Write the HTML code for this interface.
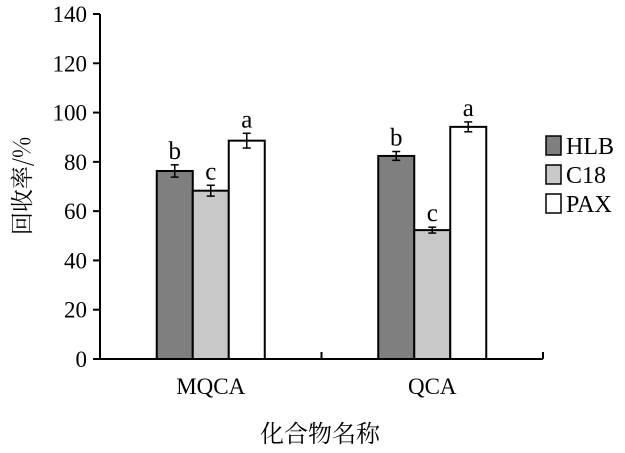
<!DOCTYPE html>
<html><head><meta charset="utf-8"><style>
body{margin:0;background:#fff;}
svg text{font-family:"Liberation Serif","Noto Serif CJK SC",serif;fill:#000;}
</style></head><body>
<svg width="625" height="448">
<g id="axes"></g><g id="bars"></g>
<text x="22" y="194" font-size="23" transform="rotate(-90 22 186)" text-anchor="middle" style='font-family:"Noto Serif CJK SC",serif'>回收率/%</text>
<text x="320" y="442" font-size="24" text-anchor="middle" style='font-family:"Noto Serif CJK SC",serif'>化合物名称</text>
<g id="legend"></g>
</svg>
<script>
const categories=["MQCA","QCA"];
const series=["HLB","C18","PAX"];
const colors=["#7f7f7f","#c8c8c8","#ffffff"];
const hlb=[76.3,82.4];
const c18=[68.3,52.3];
const pax=[88.6,94.2];
const hlbErr=[2.5,1.8];
const c18Err=[2.2,1.2];
const paxErr=[3,2];
const letters=[["b","b"],["c","c"],["a","a"]];
const yTicks=[0,20,40,60,80,100,120,140];
const NS="http://www.w3.org/2000/svg";
const x0=100,x1=543,yb=359,yt=14;
const y=v=>yb-(v/140)*(yb-yt);
const groupW=(x1-x0)/2;
const barW=36;
const cx=i=>x0+groupW*i+groupW/2;
function mk(t,a,p){const e=document.createElementNS(NS,t);for(const k in a)e.setAttribute(k,a[k]);p.appendChild(e);return e;}
const ax=document.getElementById('axes'),bg=document.getElementById('bars'),lg=document.getElementById('legend');
const yl=mk('line',{x1:x0,y1:yt,x2:x0,y2:yb,stroke:'#000','stroke-width':2},ax);

const xl=mk('line',{x1:x0-1,y1:yb,x2:x1,y2:yb,stroke:'#000','stroke-width':2},ax);

yTicks.forEach(v=>{mk('line',{x1:x0-7,y1:y(v),x2:x0,y2:y(v),stroke:'#000','stroke-width':2},ax);
const t=mk('text',{x:x0-13,y:y(v)+8,'font-size':23,'text-anchor':'end'},ax);t.textContent=v;
});
[0,1,2].forEach(i=>mk('line',{x1:x0+groupW*i,y1:yb,x2:x0+groupW*i,y2:yb-7,stroke:'#000','stroke-width':2},ax));
const vals=[hlb,c18,pax],errs=[hlbErr,c18Err,paxErr];
categories.forEach((c,ci)=>{
const t=mk('text',{x:cx(ci),y:394,'font-size':23,'text-anchor':'middle'},ax);t.textContent=c;

series.forEach((s,si)=>{
const v=vals[si][ci],e=errs[si][ci];const bx=cx(ci)-1.5*barW+si*barW;
const r=mk('rect',{x:bx,y:y(v),width:barW,height:yb-y(v),fill:colors[si],stroke:'#000','stroke-width':2},bg);

const m=bx+barW/2;
mk('line',{x1:m,y1:y(v+e),x2:m,y2:y(v-e),stroke:'#000','stroke-width':1.5},bg);
mk('line',{x1:m-4,y1:y(v+e),x2:m+4,y2:y(v+e),stroke:'#000','stroke-width':1.5},bg);
mk('line',{x1:m-4,y1:y(v-e),x2:m+4,y2:y(v-e),stroke:'#000','stroke-width':1.5},bg);
const l=mk('text',{x:m,y:y(v+e)-6,'font-size':25,'text-anchor':'middle'},bg);l.textContent=letters[si][ci];

});});
series.forEach((s,i)=>{
const g=mk('g',{},lg);
mk('rect',{x:546,y:136+i*29,width:15,height:19,fill:colors[i],stroke:'#000','stroke-width':1.5},g);
const t=mk('text',{x:566,y:154+i*29,'font-size':24},g);t.textContent=s;});
</script>
</body></html>
